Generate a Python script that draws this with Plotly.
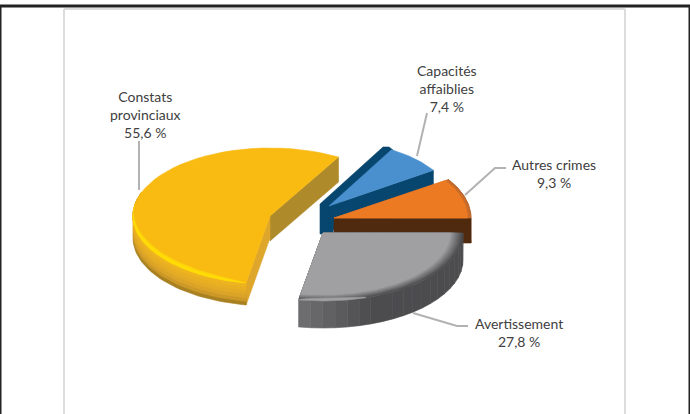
import math
import plotly.graph_objects as go

# ---- data ----
categories = ["Capacités<br>affaiblies", "Autres crimes", "Avertissement", "Constats<br>provinciaux"]
values = [7.4, 9.3, 27.8, 55.6]
value_labels = ["7,4 %", "9,3 %", "27,8 %", "55,6 %"]

# ---- drawing constants (canvas px) ----
W, H = 690, 414
START = -60
total = sum(values)
angles = []
a = START
for v in values:
    b = a + 360 * v / total
    angles.append((a, b))
    a = b

fig = go.Figure()


def mix(c1, c2, t):
    t = max(0, min(1, t))
    return "rgb(%d,%d,%d)" % tuple(round(c1[i] + (c2[i] - c1[i]) * t) for i in range(3))


def poly(pts, color, line=0.6):
    xs = [p[0] for p in pts] + [pts[0][0]]
    ys = [p[1] for p in pts] + [pts[0][1]]
    fig.add_trace(go.Scatter(x=xs, y=ys, mode="lines", fill="toself", fillcolor=color,
                             line=dict(color=color, width=line), hoverinfo="skip", showlegend=False))


def pt(s, th, k=1.0, dy=0):
    r = math.radians(th)
    return (s["cx"] + k * s["rx"] * math.cos(r), s["cy"] + k * s["ry"] * math.sin(r) + dy)


def arc(s, a0, a1, k=1.0, dy=0, n=48):
    return [pt(s, a0 + (a1 - a0) * i / n, k, dy) for i in range(n + 1)]


def strata(s, a0, a1, depth, colors):
    """Outer wall painted as horizontal strata, one colour per stratum."""
    m = len(colors)
    for j in range(m - 1, -1, -1):
        poly(arc(s, a0, a1) + arc(s, a1, a0, 1, depth * (j + 1) / m), colors[j])


def sweep(s, a0, a1, depth, colorfn, segs=16):
    """Outer wall painted as vertical sectors, colour changing with angle."""
    for i in range(segs):
        t0 = a0 + (a1 - a0) * i / segs
        t1 = a0 + (a1 - a0) * (i + 1) / segs
        poly(arc(s, t0, t1, 1, 0, 4) + arc(s, t1, t0, 1, depth, 4), colorfn((i + .5) / segs))


def cut(s, th, depth, color):
    p0 = (s["cx"], s["cy"])
    p1 = pt(s, th)
    poly([p0, p1, (p1[0], p1[1] + depth), (p0[0], p0[1] + depth)], color)


def face(s, a0, a1, color, k=1.0):
    poly([(s["cx"], s["cy"])] + arc(s, a0, a1, k), color)


def crescent(s, a0, a1, k_in, dy_in, color, n=48):
    inner = []
    for i in range(n + 1):
        f = math.sin(math.pi * i / n) ** 0.5
        th = a1 + (a0 - a1) * i / n
        inner.append(pt(s, th, 1 - (1 - k_in) * f, dy_in * f))
    poly(arc(s, a0, a1, 1, 0, n) + inner, color)


blue_a, orange_a, gray_a, yellow_a = angles

# yellow slice
Y = dict(cx=270, cy=216, rx=137, ry=68)
cut(Y, yellow_a[1], 25, "#ae8a2b")
cut(Y, yellow_a[0], 22, "#dea62b")
strata(Y, 100, 200, 22, ["#edb320", "#e9af22", "#e3aa26", "#dba428", "#cc9827", "#a88020"])
face(Y, yellow_a[0], yellow_a[1], "#f9bb12")
crescent(Y, yellow_a[0], 200, 0.985, -1, "#f5b615")
crescent(Y, yellow_a[0], 190, 0.99, -4, "#fdcf0c")
crescent(Y, yellow_a[0] + 1, 180, 0.99, -2.5, "#ffdc06")

# blue slice
B = dict(cx=329, cy=206, rx=125, ry=65)
navy = "#07466e"
poly([(320, 204), (383, 147), (389, 147), (393, 150), (335, 208), (333, 234), (320, 234)], navy)
cut(B, blue_a[1], 25, navy)
face(B, blue_a[0], blue_a[1], "#4a90cf")

# orange slice
O = dict(cx=334, cy=218, rx=137, ry=70)
poly(arc(O, orange_a[0], 0) + arc(O, 0, orange_a[0], 1, 25), "#6b3510")
cut(O, 0, 25, "#4f2a0e")
face(O, orange_a[0], orange_a[1], "#c96c2a")
face(O, orange_a[0], orange_a[1], "#ec7a23", k=0.975)

# grey slice
G = dict(cx=323, cy=233, rx=140, ry=68)
sweep(G, gray_a[0], gray_a[1], 27,
      lambda u: mix((76, 76, 78), (112, 112, 114), (u - 0.7) / 0.3), segs=20)
face(G, gray_a[0], gray_a[1], "#4c4c4e")
for n, k in enumerate([0.985, 0.97, 0.955, 0.94, 0.925, 0.91]):
    face(G, gray_a[0], gray_a[1], mix((76, 76, 78), (160, 160, 162), (n + 1) / 6), k)
crescent(G, 72, gray_a[1], 0.97, -1, "#a0a0a2")

# leader lines
leader = [
    [(427, 113), (417, 156)],
    [(506, 168), (495, 168), (465, 195)],
    [(468, 326), (457, 326), (413, 313)],
    [(139, 141), (139, 190)],
]
for seg in leader:
    fig.add_trace(go.Scatter(x=[p[0] for p in seg], y=[p[1] for p in seg], mode="lines",
                             line=dict(color="#b2b2b4", width=2), hoverinfo="skip", showlegend=False))

# labels
label_xy = [(447, 88), (554, 173), (519, 332), (145, 114)]
annotations = [
    dict(x=x, y=y, xref="x", yref="y", text=f"{c}<br>{v}", showarrow=False, align="center",
         font=dict(family="Lato", size=14, color="#404040"), xanchor="center", yanchor="middle")
    for (x, y), c, v in zip(label_xy, categories, value_labels)
]

shapes = [
    dict(type="line", x0=64, x1=64, y0=9, y1=414, line=dict(color="#dcdcdc", width=2)),
    dict(type="line", x0=625, x1=625, y0=9, y1=414, line=dict(color="#dcdcdc", width=2)),
    dict(type="line", x0=64, x1=625, y0=9, y1=9, line=dict(color="#dcdcdc", width=2)),
    dict(type="line", x0=0, x1=690, y0=6, y1=6, line=dict(color="#222222", width=3)),
    dict(type="line", x0=0.5, x1=0.5, y0=6, y1=414, line=dict(color="#222222", width=2)),
    dict(type="line", x0=689.5, x1=689.5, y0=6, y1=414, line=dict(color="#222222", width=2)),
]

fig.update_layout(
    width=W, height=H, margin=dict(l=0, r=0, t=0, b=0),
    paper_bgcolor="white", plot_bgcolor="white", showlegend=False,
    xaxis=dict(range=[0, W], visible=False, fixedrange=True),
    yaxis=dict(range=[H, 0], visible=False, fixedrange=True),
    annotations=annotations, shapes=shapes,
)
fig.write_html("out.html", config=dict(displayModeBar=False),
               post_script="document.body.style.margin='0';document.body.style.overflow='hidden';")
